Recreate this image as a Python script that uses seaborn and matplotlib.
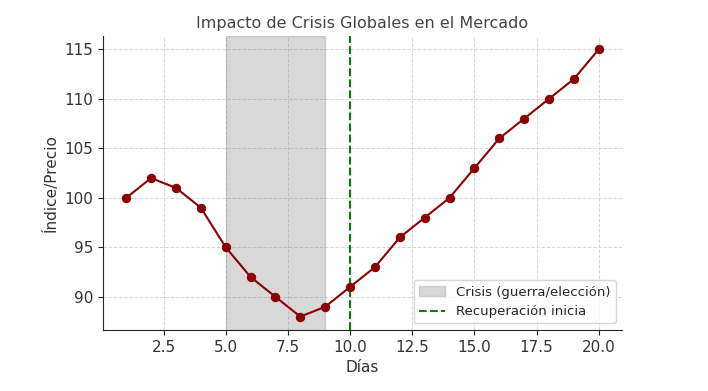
import matplotlib
matplotlib.use('Agg')
import matplotlib.pyplot as plt
import seaborn as sns
import pandas as pd

# datos del mercado
dias = list(range(1, 21))
precios = [100, 102, 101, 99, 95, 92, 90, 88, 89, 91, 93, 96, 98, 100, 103, 106, 108, 110, 112, 115]
crisis_inicio = 5
crisis_fin = 9
recuperacion = 10

df = pd.DataFrame({'Días': dias, 'Índice/Precio': precios})

sns.set_style('ticks')
plt.rcParams['font.family'] = ['DejaVu Sans']

fig = plt.figure(figsize=(7.08, 3.91), dpi=100)
ax = fig.add_axes([0.145, 0.156, 0.734, 0.752])

ax.axvspan(crisis_inicio, crisis_fin, color='grey', alpha=0.3, label='Crisis (guerra/elección)')
ax.axvline(recuperacion, color='green', linestyle='--', label='Recuperación inicia')
sns.lineplot(data=df, x='Días', y='Índice/Precio', marker='o', color='darkred',
             markeredgecolor='darkred', markersize=6, ax=ax)

ax.grid(True, linestyle='--', color='#d5d5d5', linewidth=0.7)
ax.set_axisbelow(True)
sns.despine(ax=ax)

ax.set_title('Impacto de Crisis Globales en el Mercado', fontsize=11.5, color='#444444')
ax.set_xlabel('Días', fontsize=11, color='#333333')
ax.set_ylabel('Índice/Precio', fontsize=11, color='#333333')
ax.tick_params(labelsize=11, labelcolor='#333333')
ax.set_xticks([2.5, 5.0, 7.5, 10.0, 12.5, 15.0, 17.5, 20.0])
ax.set_yticks([90, 95, 100, 105, 110, 115])

ax.legend(loc='lower right', fontsize=9.5)

fig.savefig('out.png', dpi=100)
